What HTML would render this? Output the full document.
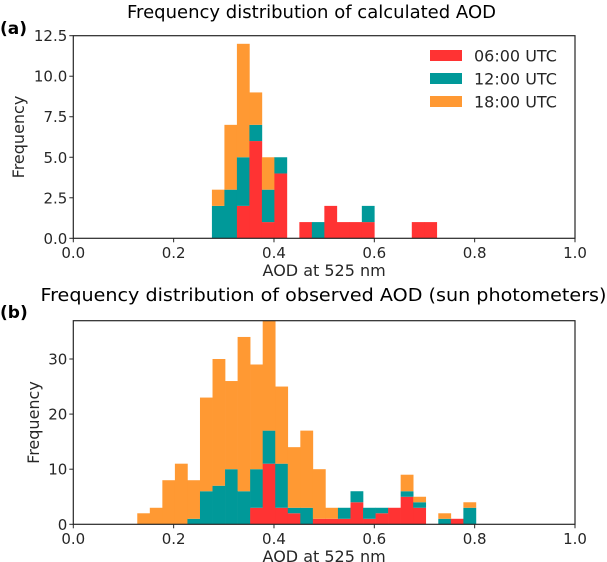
<!DOCTYPE html>
<html><head><meta charset="utf-8"><style>
html,body{margin:0;padding:0;background:#fff;}
svg{display:block;font-family:"DejaVu Sans","Liberation Sans",sans-serif;}
</style></head><body>
<svg id="chart" width="607" height="562" viewBox="0 0 607 562" xmlns="http://www.w3.org/2000/svg"></svg>
<script>
// top chart data (bins start at 0.2763, width 0.0249)
const topRed    = [0,0,2,6,1,4,0,1,0,2,1,1,1,0,0,0,1,1];
const topTeal   = [2,3,3,1,2,1,0,0,1,0,0,0,1,0,0,0,0,0];
const topOrange = [1,4,7,2,2,0,0,0,0,0,0,0,0,0,0,0,0,0];
const topTicksY = [0,2.5,5,7.5,10,12.5];
const topTickLabelsY = ["0.0","2.5","5.0","7.5","10.0","12.5"];
// bottom chart data (bins start at 0.1275, width 0.025)
const botRed    = [0,0,0,0,0,0,0,0,0,3,11,3,2,0,1,1,1,4,1,2,3,5,3,0,0,1,0];
const botTeal   = [0,0,0,0,1,6,7,10,6,7,6,8,1,3,0,0,2,2,2,1,0,1,1,0,1,0,3];
const botOrange = [2,3,8,11,7,17,23,16,28,19,20,14,11,14,9,2,0,0,0,0,0,3,1,0,1,0,1];
const botTicksY = [0,10,20,30];
const xTicks = [0,0.2,0.4,0.6,0.8,1.0];
const xTickLabels = ["0.0","0.2","0.4","0.6","0.8","1.0"];
const colors = {red:"#ff3333", teal:"#009999", orange:"#ff9933"};

const NS="http://www.w3.org/2000/svg";
const svg=document.getElementById('chart');
function mk(tag,attrs,parent,text){const e=document.createElementNS(NS,tag);for(const k in attrs)e.setAttribute(k,attrs[k]);if(text!==undefined)e.textContent=text;(parent||svg).appendChild(e);return e;}

function panel(cfg){
  const g=mk('g',{});
  
  
  const L=73.3,R=575,T=cfg.top,B=cfg.bottom;
  const sx=v=>L+(v-0)/(1-0)*(R-L);
  const sy=v=>B-(v/cfg.ymax)*(B-T);
  const series=[[cfg.red,colors.red,'06'],[cfg.teal,colors.teal,'12'],[cfg.orange,colors.orange,'18']];
  for(let i=0;i<cfg.red.length;i++){
    let base=0;
    for(const [arr,col,lab] of series){
      const v=arr[i]; if(!v) continue;
      const x0=sx(cfg.start+i*cfg.width), x1=sx(cfg.start+(i+1)*cfg.width);
      const r=mk('rect',{x:x0,y:sy(base+v),width:x1-x0+0.3,height:sy(base)-sy(base+v),fill:col},g);
      
      
      base+=v;
    }
  }
  const f=mk('rect',{x:L,y:T,width:R-L,height:B-T,fill:'none',stroke:'#262626','stroke-width':1.2},g);
  
  
  xTicks.forEach((t,i)=>{
    mk('line',{x1:sx(t),x2:sx(t),y1:B,y2:B+4,stroke:'#262626'},g);
    const tx=mk('text',{x:sx(t),y:B+19.5,'font-size':15,'text-anchor':'middle',fill:'#262626'},g,xTickLabels[i]);
    
    
  });
  cfg.ticksY.forEach((t,i)=>{
    mk('line',{x1:L-4,x2:L,y1:sy(t),y2:sy(t),stroke:'#262626'},g);
    const ty=mk('text',{x:L-6,y:sy(t)+5.5,'font-size':15,'text-anchor':'end',fill:'#262626'},g,cfg.tickLabelsY[i]);
    
    
  });
  const xl=mk('text',{x:(L+R)/2,y:B+cfg.xlabOff,'font-size':16,'text-anchor':'middle',fill:'#262626'},g,'AOD at 525 nm');
  
  
  const yl=mk('text',{x:0,y:0,'font-size':16,'text-anchor':'middle',fill:'#262626',transform:`translate(${cfg.ylabX},${(T+B)/2}) rotate(-90)`},g,'Frequency');
  
  
  const ti=mk('text',{x:cfg.titleX,y:cfg.titleY,'font-size':18,'text-anchor':'middle',fill:'#000',textLength:cfg.titleLen,lengthAdjust:'spacingAndGlyphs'},g,cfg.title);
  
  
  const pl=mk('text',{x:0,y:cfg.panelY,'font-size':17,'font-weight':'bold',fill:'#000'},g,cfg.panel);
  
  
}

panel({name:'calculated-aod-chart',top:35.7,bottom:238.3,ymax:12.5,start:0.2763,width:0.0249,
  red:topRed,teal:topTeal,orange:topOrange,ticksY:topTicksY,tickLabelsY:topTickLabelsY,xlabOff:37.5,
  ylabX:24,title:'Frequency distribution of calculated AOD',titleX:311.5,titleY:18,titleLen:369,panel:'(a)',panelY:34});
panel({name:'observed-aod-chart',top:320.7,bottom:524.3,ymax:36.95,start:0.1275,width:0.025,
  red:botRed,teal:botTeal,orange:botOrange,ticksY:botTicksY,tickLabelsY:botTicksY.map(String),xlabOff:37.5,
  ylabX:39,title:'Frequency distribution of observed AOD (sun photometers)',titleX:323.5,titleY:301,titleLen:566,panel:'(b)',panelY:318});

// legend
const lg=mk('g',{});


[['06:00 UTC',colors.red],['12:00 UTC',colors.teal],['18:00 UTC',colors.orange]].forEach((d,i)=>{
  const y=50+i*23;
  const sw=mk('rect',{x:430,y:y,width:32,height:11,fill:d[1]},lg);
  
  
  const t=mk('text',{x:474,y:y+11.5,'font-size':16,fill:'#262626'},lg,d[0]);
  
  
});
</script>
</body></html>
